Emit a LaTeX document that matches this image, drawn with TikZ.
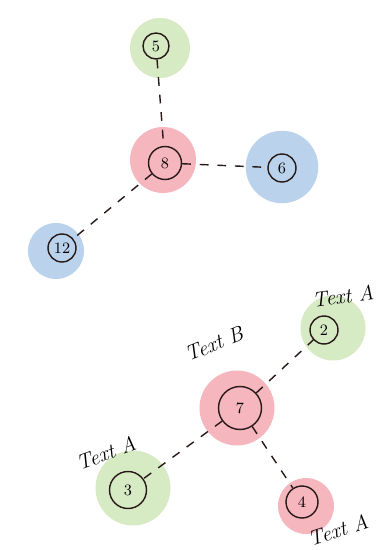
\documentclass[tikz,border=0pt]{standalone}
\usepackage{amsmath}
\usepackage{amssymb}
\usepackage{tikz}

\definecolor{blobgreen}{RGB}{214,234,196}
\definecolor{blobpink}{RGB}{245,182,190}
\definecolor{blobblue}{RGB}{186,210,235}
\definecolor{inkdark}{RGB}{40,25,25}

\tikzset{
  blob/.style={circle,inner sep=0pt,minimum size=#1},
  vert/.style={circle,draw=inkdark,thick,inner sep=0pt,minimum size=#1,font=\small},
  link/.style={draw=inkdark,thick,dashed,dash pattern=on 5pt off 5pt},
  tag/.style={font=\large\itshape,inner sep=1pt}
}

\begin{document}
\begin{tikzpicture}[x=0.02cm,y=-0.02cm]
            \clip (0,0) rectangle (389,550);
            \fill[white] (0,0) rectangle (389,550);
            % Blobs
            \node[blob=1.2cm,fill=blobgreen] (b5) at (160,48) {};
            \node[blob=1.32cm,fill=blobpink] (b8) at (163,160) {};
            \node[blob=1.45cm,fill=blobblue] (b6) at (282,167) {};
            \node[blob=1.12cm,fill=blobblue] (b12) at (56,251) {};
            \node[blob=1.3cm,fill=blobgreen] (b2) at (333,328) {};
            \node[blob=1.5cm,fill=blobpink] (b7) at (237,408) {};
            \node[blob=1.5cm,fill=blobgreen] (b3) at (133,488) {};
            \node[blob=1.12cm,fill=blobpink] (b4) at (306,506) {};
            % Vertices
            \node[vert=0.52cm] (v5) at (156,46) {5};
            \node[vert=0.66cm] (v8) at (165,163) {8};
            \node[vert=0.56cm] (v6) at (282,168) {6};
            \node[vert=0.56cm] (v12) at (62,248) {12};
            \node[vert=0.56cm] (v2) at (324,330) {2};
            \node[vert=0.86cm] (v7) at (240,408) {7};
            \node[vert=0.74cm] (v3) at (128,490) {3};
            \node[vert=0.64cm] (v4) at (302,502) {4};
            % Edges
            \draw[link] (v5) -- (v8);
            \draw[link] (v8) -- (v6);
            \draw[link] (v8) -- (v12);
            \draw[link] (v7) -- (v2);
            \draw[link] (v7) -- (v3);
            \draw[link] (v7) -- (v4);
            % Labels
            \node[tag,rotate=8] (t2) at (343,296) {Text A};
            \node[tag,rotate=22] (t7) at (214,344) {Text B};
            \node[tag,rotate=20] (t3) at (106,453) {Text A};
            \node[tag,rotate=18] (t4) at (338,530) {Text A};
        \end{tikzpicture}
\end{document}
